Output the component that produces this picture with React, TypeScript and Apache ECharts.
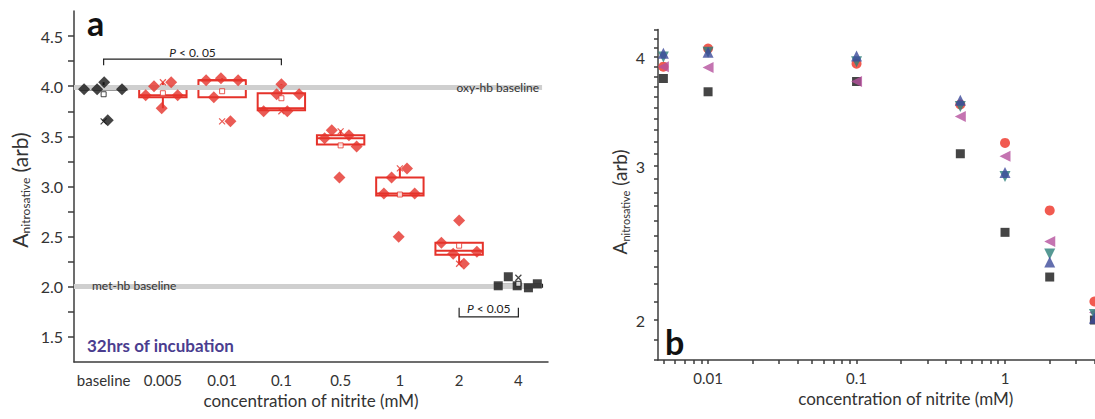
import React, { useEffect, useRef } from 'react';
import * as echarts from 'echarts';

// ---------------- Panel a data ----------------
const categories = ['baseline', '0.005', '0.01', '0.1', '0.5', '1', '2', '4'];
const groupColors = ['#151515', '#e5322a', '#e5322a', '#e5322a', '#e5322a', '#e5322a', '#e5322a', '#151515'];
const groupShapes = ['diamond', 'diamond', 'diamond', 'diamond', 'diamond', 'diamond', 'diamond', 'rect'];

// individual measurements (A nitrosative) per concentration
const pointValues = [
  [3.97, 3.97, 4.04, 3.97, 3.66],
  [3.91, 4.0, 4.04, 3.91, 3.78],
  [4.06, 4.08, 4.06, 3.89, 3.65],
  [4.02, 3.92, 3.92, 3.75, 3.75],
  [3.56, 3.48, 3.51, 3.4, 3.09],
  [3.18, 3.09, 2.93, 2.93, 2.5],
  [2.66, 2.44, 2.33, 2.35, 2.23],
  [2.1, 2.01, 2.01, 1.99, 2.03],
];
// horizontal jitter of each measurement, in category units
const pointJitter = [
  [-0.33, -0.11, 0.01, 0.31, 0.07],
  [-0.29, -0.15, 0.14, 0.25, -0.02],
  [-0.27, -0.02, 0.27, -0.14, 0.14],
  [0.0, -0.08, 0.3, -0.3, 0.1],
  [-0.15, -0.27, 0.14, 0.27, -0.02],
  [0.12, -0.14, -0.27, 0.25, -0.02],
  [0.0, -0.3, -0.1, 0.3, 0.08],
  [-0.17, -0.34, -0.02, 0.17, 0.32],
];
const whiskerLow = [3.97, 3.78, 3.89, 3.76, 3.4, 2.91, 2.23, 1.99];
const boxQ1 = [3.97, 3.89, 3.89, 3.76, 3.42, 2.91, 2.32, 2.0];
const boxMedian = [3.97, 3.91, 4.06, 3.78, 3.48, 2.93, 2.36, 2.01];
const boxQ3 = [3.98, 4.0, 4.06, 3.93, 3.51, 3.09, 2.44, 2.02];
const whiskerHigh = [4.04, 4.04, 4.08, 4.02, 3.56, 3.18, 2.44, 2.03];
const groupMeans = [3.92, 3.93, 3.95, 3.88, 3.41, 2.92, 2.41, 2.03];
const extremeMarks = [3.65, 4.04, 3.65, 3.75, 3.55, 3.18, 2.23, 2.09];

const oxyBaseline = 3.99;
const metBaseline = 2.01;

// significance brackets: [fromCategory, toCategory, lineValue, tipValue, textValue]
const brackets = [
  [0, 3, 4.27, 4.21, 4.34],
  [6, 7, 1.7, 1.79, 1.78],
];
const bracketLabels = ['{i|P} < 0. 05', '{i|P} < 0.05'];

const aYTicks = [1.5, 1.75, 2, 2.25, 2.5, 2.75, 3, 3.25, 3.5, 3.75, 4, 4.25, 4.5];
const aYLabels = [1.5, 2, 2.5, 3, 3.5, 4, 4.5];

// ---------------- Panel b data ----------------
const bConc = [0.005, 0.01, 0.1, 0.5, 1, 2, 4];
const bBlack = [3.78, 3.65, 3.75, 3.1, 2.52, 2.24, 2.0];
const bRed = [3.9, 4.09, 3.93, 3.53, 3.19, 2.67, 2.1];
const bMagenta = [3.9, 3.89, 3.75, 3.42, 3.08, 2.46, 2.04];
const bTeal = [4.0, 4.05, 3.95, 3.51, 2.92, 2.38, 2.03];
const bBlue = [4.04, 4.05, 4.01, 3.57, 2.95, 2.33, 2.01];

const bXTicks = [
  0.005, 0.006, 0.007, 0.008, 0.009, 0.01, 0.02, 0.03, 0.04, 0.05, 0.06, 0.07, 0.08, 0.09,
  0.1, 0.2, 0.3, 0.4, 0.5, 0.6, 0.7, 0.8, 0.9, 1, 2, 3, 4, 5, 6, 7, 8, 9, 10,
];
const bXLabels = [0.01, 0.1, 1];
const bYTicks = [
  1.8, 1.9, 2, 2.1, 2.2, 2.3, 2.4, 2.5, 2.6, 2.7, 2.8, 2.9, 3, 3.1, 3.2, 3.3, 3.4, 3.5, 3.6,
  3.7, 3.8, 3.9, 4, 4.1, 4.2, 4.3,
];
const bYLabels = [2, 3, 4];

// ---------------- styling ----------------
const FONT = 'Lato, "Open Sans", sans-serif';
const AXIS = '#3c3c3c';
const TXT = '#333333';
const X_NAME = 'concentration of nitrite (mM)';

function buildOption() {
  const pointSeries = categories.map((c, i) => ({
    type: 'scatter',
    name: 'points ' + c,
    xAxisIndex: 1,
    yAxisIndex: 0,
    symbol: groupShapes[i],
    symbolSize: groupShapes[i] === 'rect' ? 9 : 12,
    itemStyle: { color: groupColors[i] },
    z: 6,
    data: pointValues[i].map((v, j) => [i + pointJitter[i][j], v]),
  }));

  const boxData = categories.map((c, i) => [i, whiskerLow[i], boxQ1[i], boxMedian[i], boxQ3[i], whiskerHigh[i]]);

  const axisTickStyle = { color: AXIS, width: 1.5 };

  return {
    animation: false,
    textStyle: { fontFamily: FONT },
    grid: [
      { left: 74, top: 11, width: 474, height: 351, outerBoundsMode: 'none', containLabel: false },
      { left: 658, top: 29.6, width: 495.5, height: 330.4, outerBoundsMode: 'none', containLabel: false },
    ],
    xAxis: [
      {
        type: 'category',
        gridIndex: 0,
        data: categories,
        boundaryGap: true,
        axisLine: { onZero: false, lineStyle: { color: AXIS, width: 1.5 } },
        axisTick: { alignWithLabel: true, interval: 0, length: 6, lineStyle: axisTickStyle },
        axisLabel: { interval: 0, margin: 10, fontSize: 15, color: TXT, fontFamily: FONT },
        splitLine: { show: false },
        name: X_NAME,
        nameLocation: 'middle',
        nameGap: 28,
        nameTextStyle: { fontSize: 17, color: TXT, fontFamily: FONT },
      },
      { type: 'value', gridIndex: 0, min: -0.5, max: 7.5, show: false, axisLine: { onZero: false } },
      {
        type: 'log',
        gridIndex: 1,
        logBase: 10,
        min: 0.0046,
        max: 10,
        axisLine: { onZero: false, lineStyle: { color: AXIS, width: 1.5 } },
        axisTick: { customValues: bXTicks, length: 4, lineStyle: axisTickStyle },
        axisLabel: {
          customValues: bXLabels,
          margin: 10,
          fontSize: 15,
          color: TXT,
          fontFamily: FONT,
          formatter: (v: number) => String(v),
        },
        splitLine: { show: false },
        minorTick: { show: false },
        name: X_NAME,
        nameLocation: 'middle',
        nameGap: 28,
        nameTextStyle: { fontSize: 17, color: TXT, fontFamily: FONT },
      },
    ],
    yAxis: [
      {
        type: 'value',
        gridIndex: 0,
        min: 1.25,
        max: 4.75,
        axisLine: { show: true, onZero: false, lineStyle: { color: AXIS, width: 1.5 } },
        axisTick: { show: true, customValues: aYTicks, length: 6, lineStyle: axisTickStyle },
        axisLabel: {
          customValues: aYLabels,
          margin: 11,
          fontSize: 16,
          color: TXT,
          fontFamily: FONT,
          formatter: (v: number) => v.toFixed(1),
        },
        splitLine: { show: false },
      },
      {
        type: 'log',
        gridIndex: 1,
        logBase: 10,
        min: 1.8,
        max: 4.3,
        axisLine: { show: true, onZero: false, lineStyle: { color: AXIS, width: 1.5 } },
        axisTick: { show: true, customValues: bYTicks, length: 4, lineStyle: axisTickStyle },
        axisLabel: {
          customValues: bYLabels,
          margin: 13,
          fontSize: 16,
          color: TXT,
          fontFamily: FONT,
          formatter: (v: number) => String(v),
        },
        splitLine: { show: false },
        minorTick: { show: false },
      },
    ],
    series: [
      {
        type: 'line',
        name: 'baselines',
        xAxisIndex: 1,
        yAxisIndex: 0,
        data: [],
        z: 1,
        markLine: {
          silent: true,
          symbol: ['none', 'none'],
          lineStyle: { color: '#cfcfcf', width: 5, type: 'solid' },
          data: [
            [
              {
                coord: [-0.5, oxyBaseline],
                label: {
                  show: true,
                  formatter: 'oxy-hb baseline',
                  position: 'insideEnd',
                  distance: 3,
                  fontSize: 12,
                  color: TXT,
                  fontFamily: FONT,
                },
              },
              { coord: [7.4, oxyBaseline] },
            ],
            [
              {
                coord: [-0.5, metBaseline],
                label: {
                  show: true,
                  formatter: 'met-hb baseline',
                  position: 'insideStart',
                  distance: 18,
                  fontSize: 12,
                  color: TXT,
                  fontFamily: FONT,
                },
              },
              { coord: [7.4, metBaseline] },
            ],
          ],
        },
      },
      {
        type: 'custom',
        name: 'boxes',
        xAxisIndex: 0,
        yAxisIndex: 0,
        z: 3,
        encode: { x: 0, y: [1, 2, 3, 4, 5] },
        data: boxData,
        renderItem: (params: any, api: any) => {
          const i = api.value(0);
          const lo = api.coord([i, api.value(1)]);
          const q1 = api.coord([i, api.value(2)]);
          const md = api.coord([i, api.value(3)]);
          const q3 = api.coord([i, api.value(4)]);
          const hi = api.coord([i, api.value(5)]);
          const half = api.size([1, 0])[0] * 0.4;
          const x = q1[0];
          const color = groupColors[params.dataIndex];
          const st = { stroke: color, lineWidth: 2, fill: 'none' };
          return {
            type: 'group',
            children: [
              { type: 'line', shape: { x1: x, y1: q3[1], x2: x, y2: hi[1] }, style: st },
              { type: 'line', shape: { x1: x, y1: q1[1], x2: x, y2: lo[1] }, style: st },
              {
                type: 'rect',
                shape: { x: x - half, y: q3[1], width: half * 2, height: Math.max(q1[1] - q3[1], 0.1) },
                style: st,
              },
              { type: 'line', shape: { x1: x - half, y1: md[1], x2: x + half, y2: md[1] }, style: st },
            ],
          };
        },
      },
      {
        type: 'scatter',
        name: 'means',
        xAxisIndex: 0,
        yAxisIndex: 0,
        z: 7,
        symbol: 'rect',
        symbolSize: 5,
        data: groupMeans.map((m, i) => ({
          value: [i, m],
          itemStyle: { color: '#ffffff', borderColor: groupColors[i], borderWidth: 1 },
        })),
      },
      {
        type: 'scatter',
        name: 'extremes',
        xAxisIndex: 0,
        yAxisIndex: 0,
        z: 5,
        symbol: 'path://M0 0L10 10M10 0L0 10',
        symbolSize: 6,
        data: extremeMarks.map((m, i) => ({
          value: [i, m],
          itemStyle: { color: 'none', borderColor: groupColors[i], borderWidth: 1.2 },
        })),
      },
      ...pointSeries,
      {
        type: 'custom',
        name: 'brackets',
        xAxisIndex: 0,
        yAxisIndex: 0,
        z: 8,
        encode: { x: [0, 1], y: [2, 3, 4] },
        data: brackets,
        renderItem: (params: any, api: any) => {
          const a = api.coord([api.value(0), api.value(2)]);
          const b = api.coord([api.value(1), api.value(2)]);
          const tip = api.coord([api.value(0), api.value(3)]);
          const t = api.coord([api.value(0), api.value(4)]);
          const st = { stroke: '#222', lineWidth: 1.2, fill: 'none' };
          return {
            type: 'group',
            children: [
              {
                type: 'polyline',
                shape: { points: [[a[0], tip[1]], [a[0], a[1]], [b[0], b[1]], [b[0], tip[1]]] },
                style: st,
              },
              {
                type: 'text',
                x: (a[0] + b[0]) / 2,
                y: t[1],
                style: {
                  text: bracketLabels[params.dataIndex],
                  align: 'center',
                  verticalAlign: 'middle',
                  fontSize: 12,
                  fontFamily: FONT,
                  fill: '#222',
                  rich: { i: { fontStyle: 'italic', fontSize: 12, fontFamily: FONT, fill: '#222' } },
                },
              },
            ],
          };
        },
      },
      {
        type: 'scatter',
        name: 'series 1',
        xAxisIndex: 2,
        yAxisIndex: 1,
        symbol: 'rect',
        symbolSize: 9,
        itemStyle: { color: '#161616' },
        data: bConc.map((c, i) => [c, bBlack[i]]),
      },
      {
        type: 'scatter',
        name: 'series 2',
        xAxisIndex: 2,
        yAxisIndex: 1,
        symbol: 'circle',
        symbolSize: 10,
        itemStyle: { color: '#ee3124' },
        data: bConc.map((c, i) => [c, bRed[i]]),
      },
      {
        type: 'scatter',
        name: 'series 3',
        xAxisIndex: 2,
        yAxisIndex: 1,
        symbol: 'triangle',
        symbolRotate: 90,
        symbolSize: 11,
        itemStyle: { color: '#b5519e' },
        data: bConc.map((c, i) => [c, bMagenta[i]]),
      },
      {
        type: 'scatter',
        name: 'series 4',
        xAxisIndex: 2,
        yAxisIndex: 1,
        symbol: 'triangle',
        symbolRotate: 180,
        symbolSize: 11,
        itemStyle: { color: '#2c8079' },
        data: bConc.map((c, i) => [c, bTeal[i]]),
      },
      {
        type: 'scatter',
        name: 'series 5',
        xAxisIndex: 2,
        yAxisIndex: 1,
        symbol: 'triangle',
        symbolSize: 11,
        itemStyle: { color: '#3c4a9a' },
        data: bConc.map((c, i) => [c, bBlue[i]]),
      },
    ],
    graphic: [
      {
        type: 'text',
        x: 87,
        y: 22,
        style: { text: 'a', fontSize: 34, fontWeight: 'bold', fontFamily: FONT, fill: '#111', verticalAlign: 'middle' },
      },
      {
        type: 'text',
        x: 665,
        y: 341,
        style: { text: 'b', fontSize: 34, fontWeight: 'bold', fontFamily: FONT, fill: '#111', verticalAlign: 'middle' },
      },
      {
        type: 'text',
        x: 87,
        y: 345,
        style: {
          text: '32hrs of incubation',
          fontSize: 17,
          fontWeight: 'bold',
          fontFamily: FONT,
          fill: '#4a3d8f',
          verticalAlign: 'middle',
        },
      },
      {
        type: 'text',
        x: 21,
        y: 190,
        rotation: Math.PI / 2,
        style: {
          text: '{a|A}{s|nitrosative}{a| (arb)}',
          align: 'center',
          verticalAlign: 'middle',
          rich: {
            a: { fontSize: 21, lineHeight: 21, padding: [0, 0, 4, 0], fontFamily: FONT, fill: TXT },
            s: { fontSize: 12, lineHeight: 12, verticalAlign: 'bottom', fontFamily: FONT, fill: TXT },
          },
        },
      },
      {
        type: 'text',
        x: 621,
        y: 202,
        rotation: Math.PI / 2,
        style: {
          text: '{a|A}{s|nitrosative}{a| (arb)}',
          align: 'center',
          verticalAlign: 'middle',
          rich: {
            a: { fontSize: 19, lineHeight: 19, padding: [0, 0, 4, 0], fontFamily: FONT, fill: TXT },
            s: { fontSize: 11, lineHeight: 11, verticalAlign: 'bottom', fontFamily: FONT, fill: TXT },
          },
        },
      },
    ],
  };
}

export default function App() {
  const ref = useRef<HTMLDivElement>(null);
  useEffect(() => {
    if (!ref.current) return;
    const chart = echarts.init(ref.current, null, { renderer: 'svg' });
    chart.setOption(buildOption() as any);
    return () => chart.dispose();
  }, []);
  return (
    <div
      ref={ref}
      style={{ position: 'absolute', left: 0, top: 0, width: 1095, height: 419, overflow: 'hidden', background: '#fff' }}
    />
  );
}
